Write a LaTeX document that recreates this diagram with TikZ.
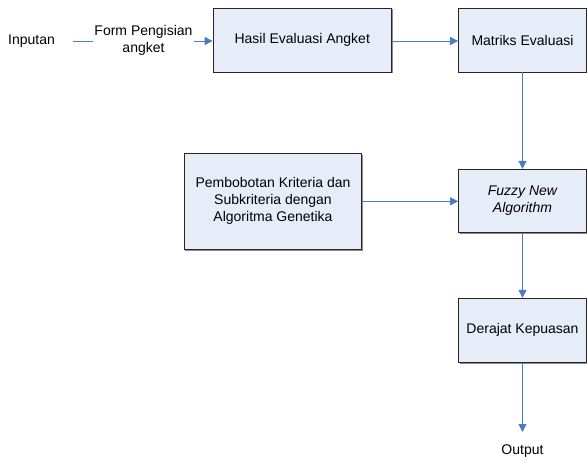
\documentclass[tikz,border=0pt]{standalone}
\usepackage{fontspec}
\setmainfont{Liberation Sans}
\usetikzlibrary{arrows.meta,shadows}
\definecolor{boxfill}{HTML}{E7EDF8}
\definecolor{flow}{HTML}{4A7CC4}
\begin{document}
\begin{tikzpicture}[x=1pt,y=-1pt,
  stepbox/.style={draw=black!85, fill=boxfill, line width=0.8pt, inner sep=0pt,
    align=center, font=\fontsize{14}{17}\selectfont,
    drop shadow={shadow xshift=1pt, shadow yshift=-1.2pt, fill=black!45, opacity=1}},
  lbl/.style={inner sep=0pt, align=center, font=\fontsize{14}{17}\selectfont},
  flowline/.style={draw=flow, line width=0.9pt},
  flowarrow/.style={flowline, -{Triangle[length=8pt,width=8pt]}}]
\useasboundingbox (0,0) rectangle (587,463);

% process boxes
\node[stepbox, minimum width=178.5, minimum height=64] (hasil) at (302.25,40) {Hasil Evaluasi Angket};
\node[stepbox, minimum width=128, minimum height=64] (matriks) at (522.5,40) {Matriks Evaluasi};
\node[stepbox, minimum width=177.5, minimum height=96] (bobot) at (273,201.3) {Pembobotan Kriteria dan\\Subkriteria dengan\\Algoritma Genetika};
\node[stepbox, minimum width=128, minimum height=63.5] (fuzzy) at (522.5,201) {\itshape Fuzzy New\\\itshape Algorithm};
\node[stepbox, minimum width=128, minimum height=64] (derajat) at (522.5,330.3) {Derajat Kepuasan};

% free labels
\node[lbl] (inputan) at (31.5,41) {Inputan};
\node[lbl] (form) at (143.5,40) {Form Pengisian\\angket};
\node[lbl] (output) at (522.5,451.5) {Output};
\coordinate (outend) at (522.5,432);

% connectors
\draw[flowline] ([xshift=18pt]inputan.east) -- ([xshift=-1pt]form.west |- inputan.east);
\draw[flowarrow] ([xshift=1pt]form.east |- inputan.east) -- (hasil.west |- inputan.east);
\draw[flowarrow] (hasil.east |- inputan.east) -- (matriks.west |- inputan.east);
\draw[flowarrow] (matriks) -- (fuzzy);
\draw[flowarrow] (bobot.east) -- (bobot.east -| fuzzy.west);
\draw[flowarrow] (fuzzy) -- (derajat);
\draw[flowarrow] (derajat) -- (outend);
\end{tikzpicture}
\end{document}
